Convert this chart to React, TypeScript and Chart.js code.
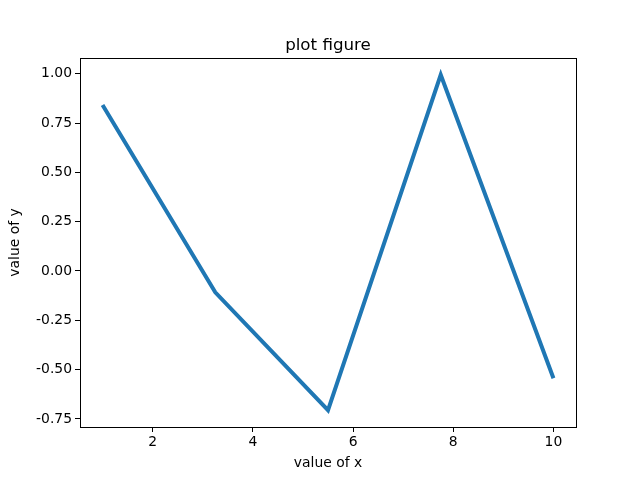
import React, { useEffect, useRef } from "react";
import { Chart, registerables } from "chart.js";

Chart.register(...registerables);

const xValues = [1, 3.25, 5.5, 7.75, 10];
const yValues = [0.8415, -0.1082, -0.7055, 0.9946, -0.544];
const xTicks = [2, 4, 6, 8, 10];
const yTicks = [-0.75, -0.5, -0.25, 0, 0.25, 0.5, 0.75, 1.0];
const titleText = "plot figure";

const FONT = "'DejaVu Sans', sans-serif";

const frame = {
  id: "frame",
  afterDraw(chart: any) {
    const { ctx, chartArea: a } = chart;
    ctx.save();
    ctx.strokeStyle = "#000";
    ctx.lineWidth = 1;
    ctx.strokeRect(Math.round(a.left) + 0.5, Math.round(a.top) + 0.5, Math.round(a.right - a.left), Math.round(a.bottom - a.top));
    ctx.fillStyle = "#000";
    ctx.font = `16.7px ${FONT}`;
    ctx.textAlign = "center";
    ctx.textBaseline = "alphabetic";
    ctx.fillText(titleText, (a.left + a.right) / 2, a.top - 8);
    ctx.restore();
  },
};

export default function App() {
  const ref = useRef<HTMLCanvasElement>(null);
  useEffect(() => {
    if (!ref.current) return;
    const chart = new Chart(ref.current, {
      type: "line",
      data: {
        datasets: [
          {
            data: xValues.map((x, i) => ({ x, y: yValues[i] })),
            borderColor: "#1f77b4",
            borderWidth: 4,
            pointRadius: 0,
            tension: 0,
            fill: false,
          },
        ],
      },
      options: {
        animation: false,
        responsive: false,
        layout: { padding: { left: 0, right: 64, top: 58, bottom: 0 } },
        plugins: {
          legend: { display: false },
          tooltip: { enabled: false },
          title: { display: false },
        },
        scales: {
          x: {
            type: "linear",
            min: 0.55,
            max: 10.45,
            afterBuildTicks: (s: any) => {
              s.ticks = xTicks.map((v) => ({ value: v }));
            },
            afterFit: (s: any) => {
              s.height = 53;
            },
            ticks: {
              color: "#000",
              font: { family: FONT, size: 13.9 },
              maxRotation: 0,
              padding: 2,
              callback: (v: any) => String(v),
            },
            grid: { drawOnChartArea: false, drawTicks: true, tickLength: 5, color: "#000" },
            border: { display: true, color: "#000" },
            title: {
              display: true,
              text: "value of x",
              color: "#000",
              font: { family: FONT, size: 13.9 },
              padding: { top: 2, bottom: 8 },
            },
          },
          y: {
            type: "linear",
            min: -0.791,
            max: 1.080,
            afterBuildTicks: (s: any) => {
              s.ticks = yTicks.map((v) => ({ value: v }));
            },
            afterFit: (s: any) => {
              s.width = 80;
            },
            ticks: {
              color: "#000",
              font: { family: FONT, size: 13.9 },
              padding: 3,
              callback: (v: any) => Number(v).toFixed(2),
            },
            grid: { drawOnChartArea: false, drawTicks: true, tickLength: 5, color: "#000" },
            border: { display: true, color: "#000" },
            title: {
              display: true,
              text: "value of y",
              color: "#000",
              font: { family: FONT, size: 13.9 },
              padding: { top: 7, bottom: 4 },
            },
          },
        },
      },
      plugins: [frame],
    } as any);
    return () => chart.destroy();
  }, []);
  return (
    <div style={{ position: "fixed", left: 0, top: 0, width: 640, height: 480, background: "#fff" }}>
      <canvas ref={ref} width={640} height={480} style={{ width: 640, height: 480 }} />
    </div>
  );
}
